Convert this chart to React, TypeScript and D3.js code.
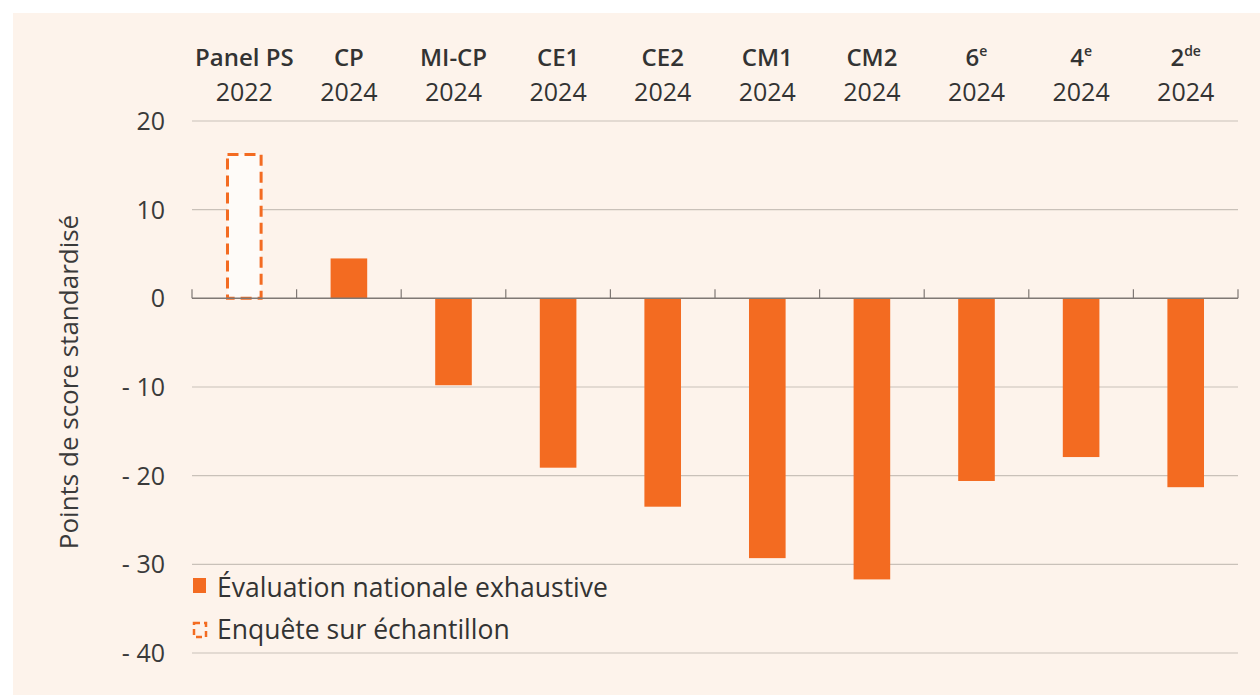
import React from 'react';
import * as d3 from 'd3';

// niveaux et années
const levels = ['Panel PS', 'CP', 'MI-CP', 'CE1', 'CE2', 'CM1', 'CM2', '6', '4', '2'];
const levelSup = ['', '', '', '', '', '', '', 'e', 'e', 'de'];
const years = ['2022', '2024', '2024', '2024', '2024', '2024', '2024', '2024', '2024', '2024'];
// points de score standardisé
const scores = [16.4, 4.5, -9.8, -19.1, -23.5, -29.3, -31.7, -20.6, -17.9, -21.3];
// type d'évaluation : 'sample' = enquête sur échantillon, 'national' = évaluation exhaustive
const sources = ['sample', 'national', 'national', 'national', 'national', 'national', 'national', 'national', 'national', 'national'];
const yTicks = [20, 10, 0, -10, -20, -30, -40];
const legendItems = ['Évaluation nationale exhaustive', 'Enquête sur échantillon'];

const ORANGE = '#f36b21';
const FONT = '"Open Sans", Lato, sans-serif';

export default function App() {
  const width = 1260;
  const height = 695;
  const margin = { top: 121, right: 22, bottom: 42, left: 192 };

  const x = d3
    .scaleBand()
    .domain(levels)
    .range([margin.left, width - margin.right])
    .paddingInner(0.65)
    .paddingOuter(0.325);

  const y = d3
    .scaleLinear()
    .domain([-40, 20])
    .range([height - margin.bottom, margin.top]);

  const step = x.step();
  const x0 = margin.left;
  const x1 = width - margin.right;
  const fmt = (d) => (d < 0 ? `- ${Math.abs(d)}` : `${d}`);

  return (
    <svg width={width} height={height} style={{ position: 'absolute', left: 0, top: 0 }}>
      <rect x={0} y={0} width={width} height={height} fill="#ffffff" />
      <rect x={13} y={13} width={width - 13} height={height - 13} fill="#fdf3eb" />

      {/* grille */}
      {yTicks.filter((t) => t !== 0).map((t) => (
        <line key={t} x1={x0} x2={x1} y1={y(t)} y2={y(t)} stroke="#c9c1b9" strokeWidth={1.2} />
      ))}

      {/* ticks de l'axe y */}
      {yTicks.map((t) => (
        <text
          key={'l' + t}
          x={165}
          y={y(t)}
          dy="0.36em"
          textAnchor="end"
          fontFamily={FONT}
          fontSize={25}
          fill="#3a3a3a"
        >
          {fmt(t)}
        </text>
      ))}

      {/* barres */}
      {levels.map((l, i) => {
        const v = scores[i];
        const top = y(Math.max(0, v));
        const h = Math.abs(y(v) - y(0));
        if (sources[i] === 'sample') {
          return (
            <rect
              key={l}
              x={x(l) + 1.5}
              y={top + 1.5}
              width={x.bandwidth() - 3}
              height={h - 1.5}
              fill="#fefbf8"
              stroke={ORANGE}
              strokeWidth={3}
              strokeDasharray="11 6"
            />
          );
        }
        return <rect key={l} x={x(l)} y={top} width={x.bandwidth()} height={h} fill={ORANGE} />;
      })}

      {/* axe zéro */}
      <line x1={x0} x2={x1} y1={y(0)} y2={y(0)} stroke="#7f7874" strokeWidth={1.5} />
      {d3.range(levels.length + 1).map((k) => (
        <line
          key={'t' + k}
          x1={x0 + k * step}
          x2={x0 + k * step}
          y1={y(0)}
          y2={y(0) - 9}
          stroke="#7f7874"
          strokeWidth={1.2}
        />
      ))}

      {/* étiquettes des catégories */}
      {levels.map((l, i) => {
        const cx = x(l) + x.bandwidth() / 2;
        return (
          <g key={'c' + l} fontFamily={FONT} fill="#333" textAnchor="middle">
            <text x={cx} y={66} fontSize={24} fontWeight={600}>
              {l}
              {levelSup[i] && (
                <tspan fontSize={14} dy={-10}>
                  {levelSup[i]}
                </tspan>
              )}
            </text>
            <text x={cx} y={101} fontSize={25}>
              {years[i]}
            </text>
          </g>
        );
      })}

      {/* titre axe y */}
      <text
        transform={`translate(78,382) rotate(-90)`}
        textAnchor="middle"
        fontFamily={FONT}
        fontSize={26}
        fill="#3a3a3a"
      >
        Points de score standardisé
      </text>

      {/* légende */}
      <g fontFamily={FONT} fontSize={26.5} fill="#333">
        <rect x={193} y={578} width={13} height={15} fill={ORANGE} />
        <text x={217} y={597}>{legendItems[0]}</text>
        <rect
          x={194}
          y={623}
          width={12}
          height={14}
          fill="none"
          stroke={ORANGE}
          strokeWidth={2.5}
          strokeDasharray="6 4"
        />
        <text x={217} y={639}>{legendItems[1]}</text>
      </g>
    </svg>
  );
}
